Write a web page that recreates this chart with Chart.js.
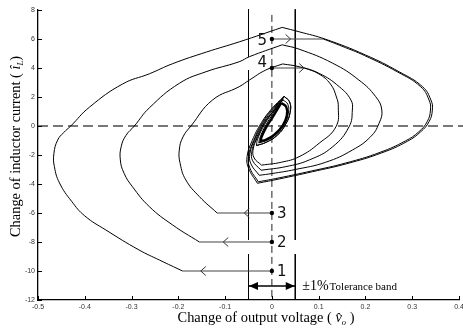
<!DOCTYPE html>
<html><head><meta charset="utf-8">
<script src="https://cdn.jsdelivr.net/npm/chart.js@4.4.1/dist/chart.umd.min.js"></script>
<style>html,body{margin:0;padding:0;background:#fff;}#wrap{width:463px;height:329px;}</style>
</head><body><div id="wrap"><canvas id="c" width="463" height="329"></canvas></div>
<script>
// ---- data ----
const xTickValues = [-0.5,-0.4,-0.3,-0.2,-0.1,0,0.1,0.2,0.3,0.4];
const yTickValues = [-12,-10,-8,-6,-4,-2,0,2,4,6,8];
const startLabels = ['1','2','3','4','5'];
const startX = [0,0,0,0,0];
const startY = [-10,-8,-6,4,6];
const startEndX = [-0.191,-0.155,-0.117,0.070,0.110];
const arrowX = [-0.152,-0.104,-0.059,0.069,0.040];
const arrowDir = [-1,-1,-1,1,1];
const bandLimits = [-0.05,0.05];
const bandArrowY = -11.03;

const traj1 = [[-0.191,-10.0],[-0.240,-9.25],[-0.284,-8.55],[-0.355,-7.17],[-0.400,-6.2],[-0.428,-5.2],[-0.454,-3.93],[-0.465,-2.8],[-0.466,-1.9],[-0.458,-0.97],[-0.445,-0.45],[-0.430,0],[-0.390,1.3],[-0.319,2.9],[-0.262,3.6],[-0.212,4.3],[-0.140,5.1],[-0.070,5.8],[0.022,6.8],[0.022,6.8],[0.058,6.5],[0.115,5.98],[0.200,4.9],[0.272,3.74],[0.322,2.71],[0.340,1.79],[0.343,1.1],[0.336,0.3],[0.318,-0.4],[0.290,-1.05],[0.235,-1.85],[0.160,-2.6],[0.087,-3.15],[0.016,-3.65],[-0.031,-3.95],[-0.031,-3.95],[-0.050,-2.9],[-0.053,-2.1],[-0.042,-1.0],[-0.022,0.25],[0.000,1.2],[0.026,2.05],[0.026,2.05],[0.038,1.65],[0.039,0.95],[0.030,0.15],[0.012,-0.62],[-0.012,-1.12],[-0.033,-1.35]];
const traj5 = [[0.110,6.0],[0.150,5.5],[0.198,4.86],[0.269,3.72],[0.318,2.71],[0.336,1.79],[0.339,1.1],[0.332,0.3],[0.314,-0.4],[0.286,-1.02],[0.231,-1.82],[0.157,-2.56],[0.085,-3.1],[0.015,-3.58],[-0.029,-3.85],[-0.029,-3.85],[-0.047,-2.9],[-0.050,-2.1],[-0.039,-1.0],[-0.020,0.25],[0.002,1.2],[0.026,2.0]];
const traj2 = [[-0.155,-8.0],[-0.212,-6.83],[-0.262,-5.56],[-0.298,-4.19],[-0.316,-3.26],[-0.324,-2.34],[-0.322,-1.4],[-0.312,-0.65],[-0.294,0],[-0.262,1.25],[-0.198,2.94],[-0.141,3.74],[-0.070,4.43],[-0.048,4.78],[0.022,5.6],[0.022,5.6],[0.058,5.3],[0.130,4.33],[0.186,3.17],[0.222,2.02],[0.235,1.1],[0.229,0.18],[0.211,-0.74],[0.172,-1.66],[0.115,-2.5],[0.050,-3.0],[0.000,-3.28],[-0.027,-3.4],[-0.027,-3.4],[-0.045,-2.6],[-0.047,-1.9],[-0.037,-0.95],[-0.018,0.25],[0.003,1.15],[0.025,1.95]];
const traj3 = [[-0.117,-6.0],[-0.155,-4.87],[-0.184,-3.72],[-0.196,-2.6],[-0.198,-1.66],[-0.190,-0.75],[-0.173,0],[-0.127,1.79],[-0.070,2.71],[-0.048,3.17],[-0.013,3.86],[0.023,4.28],[0.023,4.28],[0.058,4.09],[0.101,3.63],[0.144,2.71],[0.169,1.79],[0.172,1.1],[0.165,-0.05],[0.130,-1.43],[0.080,-2.34],[0.030,-2.8],[-0.023,-3.05],[-0.023,-3.05],[-0.041,-2.4],[-0.043,-1.8],[-0.034,-0.9],[-0.016,0.25],[0.005,1.1],[0.024,1.85]];
const traj4 = [[0.070,4.0],[0.100,3.6],[0.125,2.9],[0.138,2.0],[0.142,1.3],[0.137,-0.05],[0.101,-1.19],[0.058,-2.12],[0.020,-2.5],[-0.022,-2.7],[-0.022,-2.7],[-0.038,-2.2],[-0.040,-1.6],[-0.031,-0.8],[-0.014,0.3],[0.006,1.1],[0.024,1.8]];
const leafOuter = [[0.026,2.05],[0.038,1.65],[0.039,0.95],[0.030,0.15],[0.012,-0.62],[-0.012,-1.12],[-0.033,-1.35],[-0.033,-1.35],[-0.031,-0.95],[-0.020,-0.15],[-0.004,0.7],[0.012,1.45],[0.026,2.05]];
const leafMid = [[0.023,1.82],[0.034,1.5],[0.035,0.85],[0.027,0.12],[0.010,-0.56],[-0.010,-0.98],[-0.028,-1.17],[-0.028,-1.17],[-0.026,-0.85],[-0.016,-0.12],[-0.002,0.64],[0.011,1.28],[0.023,1.82]];
const leafInner = [[0.020,1.6],[0.031,1.3],[0.032,0.72],[0.023,0.02],[0.006,-0.58],[-0.011,-0.92],[-0.024,-1.05],[-0.024,-1.05],[-0.022,-0.75],[-0.012,-0.08],[0.001,0.58],[0.011,1.12],[0.020,1.6]];
const bandLeftSegs = [[8.05,4.76],[3.86,-7.86],[-8.83,-12]];
const bandRightSegs = [[8.05,-7.86],[-8.83,-12]];
const zeroVLine = [7.66,-12];
const zeroHLine = [-0.5,0.41];

// ---- build datasets ----
const pts = a => a.map(p => ({x:p[0], y:p[1]}));
const ds = [];
ds.push({data: startX.map((v,i)=>({x:v,y:startY[i]})), showLine:false, pointRadius:2.2, pointBackgroundColor:'#000', pointBorderColor:'#000', pointBorderWidth:0});
[traj1,traj5,traj2,traj3,traj4].forEach(t=>ds.push({data:pts(t), pointRadius:0, borderColor:'#000', borderWidth:1, tension:0.45}));
ds.push({data:pts(leafOuter), pointRadius:0, borderColor:'#000', borderWidth:1, tension:0.45});
ds.push({data:pts(leafMid), pointRadius:0, borderColor:'#000', borderWidth:1, tension:0.45});
ds.push({data:pts(leafInner), pointRadius:0, borderColor:'#000', borderWidth:2.4, tension:0.45});
startX.forEach((v,i)=>ds.push({data:[{x:v,y:startY[i]},{x:startEndX[i],y:startY[i]}], pointRadius:0, borderColor:'#444', borderWidth:1.1, tension:0}));
bandLeftSegs.forEach(s=>ds.push({data:[{x:bandLimits[0],y:s[0]},{x:bandLimits[0],y:s[1]}], pointRadius:0, borderColor:'#000', borderWidth:1, tension:0, clip:false}));
bandRightSegs.forEach(s=>ds.push({data:[{x:bandLimits[1],y:s[0]},{x:bandLimits[1],y:s[1]}], pointRadius:0, borderColor:'#000', borderWidth:1, tension:0, clip:false}));
ds.push({data:[{x:0,y:zeroVLine[0]},{x:0,y:zeroVLine[1]}], pointRadius:0, borderColor:'#222', borderWidth:1, borderDash:[7,4], tension:0, clip:false});
ds.push({data:[{x:zeroHLine[0],y:0},{x:zeroHLine[1],y:0}], pointRadius:0, borderColor:'#777', borderWidth:2, borderDash:[10,5], tension:0, clip:false});
ds.push({data:[{x:bandLimits[0],y:bandArrowY},{x:bandLimits[1],y:bandArrowY}], pointRadius:0, borderColor:'#000', borderWidth:1.5, tension:0});

const deco = {
  id:'deco',
  afterDraw(chart){
    const {ctx, scales:{x,y}, chartArea:ca} = chart;
    ctx.save();
    ctx.strokeStyle='#000'; ctx.lineWidth=1;
    xTickValues.forEach(v=>{const px=Math.round(x.getPixelForValue(v))+0.5; ctx.beginPath(); ctx.moveTo(px,ca.bottom); ctx.lineTo(px,ca.bottom-4); ctx.stroke();});
    yTickValues.forEach(v=>{const py=Math.round(y.getPixelForValue(v))+0.5; ctx.beginPath(); ctx.moveTo(ca.left,py); ctx.lineTo(ca.left+4,py); ctx.stroke();});
    ctx.strokeStyle='#333'; ctx.lineWidth=1;
    arrowX.forEach((v,i)=>{
      const px=x.getPixelForValue(v), py=y.getPixelForValue(startY[i]), d=arrowDir[i];
      ctx.beginPath(); ctx.moveTo(px-d*5,py-4.5); ctx.lineTo(px,py); ctx.lineTo(px-d*5,py+4.5); ctx.stroke();
    });
    ctx.fillStyle='#000';
    const ay=y.getPixelForValue(bandArrowY);
    [[bandLimits[0],1],[bandLimits[1],-1]].forEach(([v,d])=>{
      const px=x.getPixelForValue(v)+d*0.5;
      ctx.beginPath(); ctx.moveTo(px,ay); ctx.lineTo(px+d*9,ay-4); ctx.lineTo(px+d*9,ay+4); ctx.closePath(); ctx.fill();
    });
    ctx.fillStyle='#111'; ctx.font='15px "DejaVu Sans"'; ctx.textAlign='center'; ctx.textBaseline='middle';
    const off=[[10,0],[10,0],[10,0],[-9.5,-6],[-9.5,1.3]];
    startLabels.forEach((t,i)=>{
      ctx.fillText(t, x.getPixelForValue(startX[i])+off[i][0], y.getPixelForValue(startY[i])+off[i][1]+1);
    });
    ctx.textAlign='left'; ctx.textBaseline='alphabetic'; ctx.fillStyle='#000';
    let tx=x.getPixelForValue(bandLimits[1])+7, ty=ay+4.5;
    ctx.font='14px "Liberation Serif"'; ctx.fillText('±1%',tx,ty); tx+=ctx.measureText('±1%').width+1;
    ctx.font='11px "Liberation Serif"'; ctx.fillText('Tolerance band',tx,ty);
    const parts = (list)=>{let w=0; list.forEach(p=>{ctx.font=p.f; p.w=ctx.measureText(p.t).width; w+=p.w;}); return w;};
    const xt=[{t:'Change of output voltage ( ',f:'14.4px "Liberation Serif"',dy:0},{t:'v̂',f:'italic 14.4px "Liberation Serif"',dy:0},{t:'o',f:'italic 8.5px "Liberation Serif"',dy:3},{t:' )',f:'14.4px "Liberation Serif"',dy:0}];
    let w=parts(xt); let cx=266-w/2;
    xt.forEach(p=>{ctx.font=p.f; ctx.fillText(p.t,cx,322+p.dy); cx+=p.w;});
    ctx.translate(20,146.5); ctx.rotate(-Math.PI/2);
    const yt=[{t:'Change of inductor current (',f:'14.4px "Liberation Serif"',dy:0},{t:' î',f:'italic 14.4px "Liberation Serif"',dy:0},{t:'L',f:'italic 8.5px "Liberation Serif"',dy:3},{t:')',f:'14.4px "Liberation Serif"',dy:0}];
    w=parts(yt); cx=-w/2;
    yt.forEach(p=>{ctx.font=p.f; ctx.fillText(p.t,cx,p.dy); cx+=p.w;});
    ctx.restore();
  }
};

new Chart(document.getElementById('c'), {
  type:'line',
  data:{datasets:ds},
  options:{
    responsive:false, animation:false, devicePixelRatio:1,
    layout:{padding:{top:10,right:4,left:0,bottom:0}},
    plugins:{legend:{display:false}, tooltip:{enabled:false}},
    scales:{
      x:{type:'linear', min:-0.5, max:0.4,
        afterBuildTicks:(s)=>{s.ticks=xTickValues.map(v=>({value:v}));},
        afterFit:(s)=>{s.height=29; s.paddingLeft=0; s.paddingRight=0;},
        grid:{display:false, drawTicks:false}, border:{display:true,color:'#000',width:1.3},
        ticks:{padding:3, color:'#333', font:{family:'"Liberation Sans"', size:7}, maxRotation:0, autoSkip:false}},
      y:{type:'linear', min:-12, max:8,
        afterBuildTicks:(s)=>{s.ticks=yTickValues.map(v=>({value:v}));},
        afterFit:(s)=>{s.width=38; s.paddingTop=0; s.paddingBottom=0;},
        grid:{display:false, drawTicks:false}, border:{display:true,color:'#000',width:1.3},
        ticks:{padding:3, color:'#333', font:{family:'"Liberation Sans"', size:7}, autoSkip:false}}
    }
  },
  plugins:[deco]
});
</script></body></html>
